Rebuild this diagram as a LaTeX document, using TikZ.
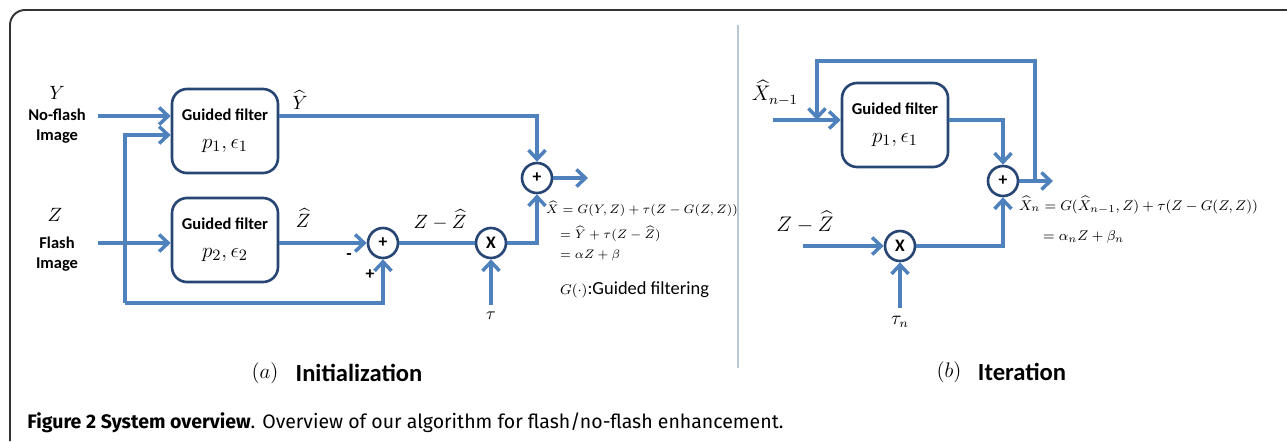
\documentclass[tikz,border=0pt]{standalone}
\usepackage{amsmath,amssymb}
\usepackage{fontspec}
\setmainfont{Carlito}
\newfontfamily\capfont{Fira Sans}
\usepackage{tikz}
\usetikzlibrary{arrows.meta,calc,positioning}
\definecolor{flblue}{RGB}{79,129,189}
\definecolor{fldark}{RGB}{40,70,115}
\definecolor{flgray}{RGB}{185,200,210}

\begin{document}
\begin{tikzpicture}[x=0.02cm,y=-0.02cm,
    >={Straight Barb[length=1.8mm,width=3.4mm]},
    wire/.style={flblue,line width=2pt},
    filt/.style={draw=fldark,line width=1.5pt,rounded corners=0.3cm,
      minimum width=2.12cm,minimum height=1.68cm,align=center,
      font=\fontsize{9.4}{16}\bfseries},
    op/.style={circle,draw=fldark,line width=1.5pt,fill=white,
      minimum size=0.6cm,inner sep=0pt,font=\fontsize{10}{12}\bfseries},
    lab/.style={font=\fontsize{11}{13}\selectfont},
    side/.style={align=center,font=\fontsize{9.4}{11.5}\bfseries},
    eqa/.style={anchor=west,inner sep=1pt,font=\fontsize{7.4}{9}\selectfont},
    eqb/.style={anchor=west,inner sep=1pt,font=\fontsize{8.3}{10}\selectfont}]
    \useasboundingbox (0,0) rectangle (1287,441);
    % frame and divider
    \draw[line width=1.1pt,black!80,rounded corners=0.3cm] (10,441) -- (10,10) -- (1287,10);
    \draw[flgray,line width=0.8pt] (738,25) -- (738,368);
    % (a) initialization
    \node[lab] (ly) at (57,93) {$Y$};
    \node[side] (lyt) at (57,126) {No-flash\\Image};
    \node[lab] (lz) at (55,215) {$Z$};
    \node[side] (lzt) at (57,254) {Flash\\Image};
    \node[filt] (g1) at (225,131) {Guided filter\\{\fontsize{12.5}{14}\selectfont$p_1,\epsilon_1$}};
    \node[filt] (g2) at (225,240) {Guided filter\\{\fontsize{12.5}{14}\selectfont$p_2,\epsilon_2$}};
    \node[op] (s1) at (383,243) {+};
    \node[op] (m1) at (491,243) {X};
    \node[op] (s2) at (537,178) {+};
    \coordinate (yin) at (98,116);
    \coordinate (zin) at (98,243);
    \coordinate (br) at (125,243);
    \coordinate (bot) at (125,303);
    \coordinate (tau) at (491,305);
    \coordinate (out) at (588,178);
    \draw[wire,->] (yin) -- (yin -| g1.west);
    \draw[wire,->] (zin) -- (zin -| g2.west);
    \draw[wire,->] (br) |- ([yshift=-0.08cm]g1.west);
    \draw[wire] (br) -- (bot);
    \draw[wire,->] (bot) -| (s1.south);
    \draw[wire,->] (g2.east |- zin) -- (s1.west);
    \draw[wire,->] (g1.east |- yin) -| (s2.north);
    \draw[wire] (s1) -- (m1);
    \draw[wire,->] (m1.east) -| (s2.south);
    \draw[wire,->] (tau) -- (m1.south);
    \draw[wire,->] (s2.east) -- (out);
    \node[lab] (lyh) at (300,100) {$\widehat{Y}$};
    \node[lab] (lzh) at (303,218) {$\widehat{Z}$};
    \node[font=\fontsize{10}{12}\bfseries] (mn) at (349,257) {-};
    \node[font=\fontsize{10}{12}\bfseries] (pl) at (370,275) {+};
    \node[lab] (lzz) at (440,220) {$Z-\widehat{Z}$};
    \node[font=\fontsize{10}{12}\selectfont] (lt) at (491,316) {$\tau$};
    \node[eqa] (ea1) at (544,209) {$\widehat{X}=G(Y,Z)+\tau(Z-G(Z,Z))$};
    \node[eqa] (ea2) at (558,234) {$=\widehat{Y}+\tau(Z-\widehat{Z})$};
    \node[eqa] (ea3) at (558,255) {$=\alpha Z+\beta$};
    \node[anchor=west,inner sep=1pt,font=\fontsize{10.5}{12}\selectfont] (ea4) at (558,290)
      {{\fontsize{8}{10}\selectfont$G(\cdot)$}:Guided filtering};
    % (b) iteration
    \node[font=\fontsize{12}{14}\selectfont] (lx) at (775,93) {$\widehat{X}_{n-1}$};
    \node[filt] (g3) at (895,125) {Guided filter\\{\fontsize{12.5}{14}\selectfont$p_1,\epsilon_1$}};
    \node[op] (s3) at (1003,181) {+};
    \node[op] (m2) at (900,246) {X};
    \coordinate (xin) at (773,120);
    \coordinate (fb) at (817,120);
    \coordinate (tp) at (1035,61);
    \coordinate (out2) at (1053,181);
    \coordinate (zz) at (803,246);
    \coordinate (taun) at (900,308);
    \draw[wire,->] (xin) -- (xin -| g3.west);
    \draw[wire,->] (g3.east |- xin) -| (s3.north);
    \draw[wire,->] (s3.east) -- (out2);
    \draw[wire,->] (out2 -| tp) -- (tp) -| (fb);
    \draw[wire,->] (zz) -- (m2.west);
    \draw[wire,->] (m2.east) -| (s3.south);
    \draw[wire,->] (taun) -- (m2.south);
    \node[font=\fontsize{11.5}{13}\selectfont] (lzz2) at (805,222) {$Z-\widehat{Z}$};
    \node[font=\fontsize{10.5}{12}\selectfont] (ltn) at (900,322) {$\tau_n$};
    \node[eqb] (eb1) at (1017,205) {$\widehat{X}_n=G(\widehat{X}_{n-1},Z)+\tau(Z-G(Z,Z))$};
    \node[eqb] (eb2) at (1041,237) {$=\alpha_n Z+\beta_n$};
    % sub captions
    \node[font=\fontsize{12}{14}\selectfont] (ca) at (265,373) {$(a)$};
    \node[font=\fontsize{14}{16}\bfseries] (cai) at (359,373) {Initialization};
    \node[font=\fontsize{12}{14}\selectfont] (cb) at (949,372) {$(b)$};
    \node[font=\fontsize{14}{16}\bfseries] (cbi) at (1022,372) {Iteration};
    \node[anchor=west,inner sep=0pt,font=\capfont\fontsize{11.1}{13}\selectfont] (cap) at (27,423)
      {\textbf{Figure 2 System overview}. Overview of our algorithm for flash/no-flash enhancement.};
\end{tikzpicture}
\end{document}
